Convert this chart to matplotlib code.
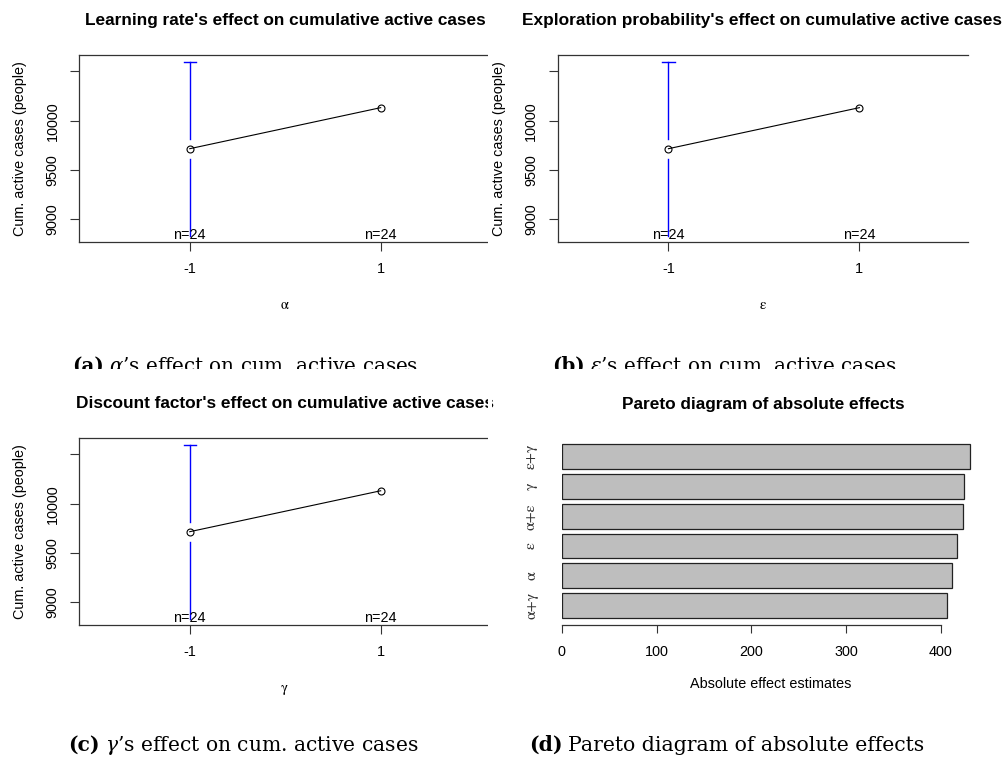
import matplotlib
matplotlib.use("Agg")
import matplotlib.pyplot as plt
from matplotlib.patches import Rectangle

# data
levels = [-1, 1]
level_labels = ["-1", "1"]
n_labels = ["n=24", "n=24"]
alpha_means = [9716, 10132]
eps_means = [9716, 10132]
gamma_means = [9716, 10131]
ci_half = 882  # only drawn for the -1 level

effect_names = ["\u03b1+\u03b3", "\u03b1", "\u03b5", "\u03b1+\u03b5", "\u03b3", "\u03b5+\u03b3"]
effect_vals = [406.8, 411.4, 416.7, 423.0, 424.7, 430.4]

W, H = 1005, 758
fig = plt.figure(figsize=(W / 100, H / 100), dpi=100)
plt.rcParams['font.family'] = ['Liberation Sans', 'DejaVu Sans']
plt.rcParams['mathtext.fontset'] = 'dejavuserif'

EDGE = '#333333'
TICK_FS = 10.4
TITLE_FS = 12.4
PW, PH = 410.5, 187.3   # plot box size in px


def axes_px(l, t, r, b):
    return fig.add_axes([l / W, 1 - b / H, (r - l) / W, (b - t) / H])


def means_panel(l, t, title, title_x, xsym, means):
    ax = axes_px(l, t, l + PW, t + PH)
    ax.set_xlim(-2.16, 2.14)
    ax.set_ylim(8767, 10666)
    ax.plot(levels, means, color='black', lw=0.8, marker='o', ms=5.0,
            mfc='none', mec='black', mew=0.8, zorder=3)
    # blue CI bar for the -1 level, broken around the point
    gap = 101
    x0, m0 = levels[0], means[0]
    ax.plot([x0, x0], [m0 + gap, m0 + ci_half], color='#0000ff', lw=1.0, zorder=2)
    ax.plot([x0, x0], [m0 - ci_half, m0 - gap], color='#0000ff', lw=1.0, zorder=2)
    ax.plot([x0 - 0.065, x0 + 0.065], [m0 + ci_half] * 2, color='#0000ff', lw=1.0)
    for x, s in zip(levels, n_labels):
        ax.text(x, 8772, s, ha='center', va='bottom', fontsize=TICK_FS)
    ax.set_xticks(levels)
    ax.set_xticklabels(level_labels)
    ax.set_yticks([9000, 9500, 10000, 10500])
    ax.set_yticklabels(['9000', '9500', '10000', ''])
    ax.tick_params(direction='out', length=6.5, width=0.8, color=EDGE,
                   labelsize=TICK_FS)
    ax.tick_params(axis='x', pad=8)
    ax.tick_params(axis='y', pad=7.5, labelrotation=90)
    for lab in ax.get_yticklabels():
        lab.set_va('center')
    for sp in ax.spines.values():
        sp.set_color(EDGE)
        sp.set_linewidth(0.9)
    ax.spines['right'].set_visible(False)
    ax.set_ylabel('Cum. active cases (people)', fontsize=TICK_FS)
    ax.yaxis.set_label_coords(-59 / PW, 0.5)
    ax.yaxis.label.set_va('center')
    ax.set_xlabel(xsym, fontsize=10.5, family='STIXGeneral', labelpad=16)
    fig.text(title_x / W, 1 - (t - 34) / H, title, ha='center', va='center',
             fontsize=TITLE_FS, fontweight='bold')
    return ax


means_panel(79, 55, "Learning rate's effect on cumulative active cases", 285.5,
            '\u03b1', alpha_means)
means_panel(557.7, 55, "Exploration probability's effect on cumulative active cases", 762,
            '\u03b5', eps_means)
means_panel(79, 438, "Discount factor's effect on cumulative active cases", 285.5,
            '\u03b3', gamma_means)

# Pareto panel
axd = axes_px(561.7, 439.4, 561.7 + 440 * 0.948, 622.7)
axd.set_xlim(0, 440)
axd.set_ylim(0, 7.4)
ypos = [0.7 + 1.2 * i for i in range(len(effect_vals))]
axd.barh(ypos, effect_vals, height=1.0, color='#bebebe', edgecolor='#222222', lw=0.9)
axd.set_yticks(ypos)
axd.set_yticklabels(effect_names, rotation=90, va='center', family='STIXGeneral',
                    fontsize=11.5, color='#333333')
axd.tick_params(axis='y', length=0, pad=17)
axd.set_xticks([0, 100, 200, 300, 400])
axd.tick_params(axis='x', direction='out', length=6, width=0.8, color=EDGE,
                labelsize=TICK_FS, pad=8)
for s in ['top', 'right', 'left']:
    axd.spines[s].set_visible(False)
axd.spines['bottom'].set_bounds(0, 400)
axd.spines['bottom'].set_position(('outward', 1.7))
axd.spines['bottom'].set_color(EDGE)
axd.spines['bottom'].set_linewidth(0.9)
axd.set_xlabel('Absolute effect estimates', fontsize=TICK_FS, labelpad=13)
fig.text(763 / W, 1 - 404 / H, 'Pareto diagram of absolute effects', ha='center',
         va='center', fontsize=TITLE_FS, fontweight='bold')


# sub-figure captions (LaTeX-like)
def caption(x, y, tag, rest, fs):
    t1 = fig.text(x / W, 1 - y / H, tag, fontsize=fs, family='DejaVu Serif',
                  fontweight='bold', va='baseline')
    fig.canvas.draw()
    bb = t1.get_window_extent()
    fig.text((bb.x1 + 5) / W, 1 - y / H, rest, fontsize=fs, family='DejaVu Serif',
             va='baseline')


caption(72, 372, '(a)', '$\\alpha$\u2019s effect on cum. active cases', 14.3)
caption(552, 372, '(b)', '$\\epsilon$\u2019s effect on cum. active cases', 14.3)
caption(68, 751, '(c)', '$\\gamma$\u2019s effect on cum. active cases', 14.6)
caption(529, 751, '(d)', 'Pareto diagram of absolute effects', 14.7)

# the source panels are cropped: mask the clipped strips
fig.add_artist(Rectangle((0, 1 - 381 / H), 1, 12.5 / H, transform=fig.transFigure,
                         facecolor='white', edgecolor='none', zorder=20))
for top in (0, 383):
    fig.add_artist(Rectangle((487.5 / W, 1 - (top + 260) / H), 4.5 / W, 260 / H,
                             transform=fig.transFigure, facecolor='white',
                             edgecolor='none', zorder=20))

fig.savefig('out.png', dpi=100)
